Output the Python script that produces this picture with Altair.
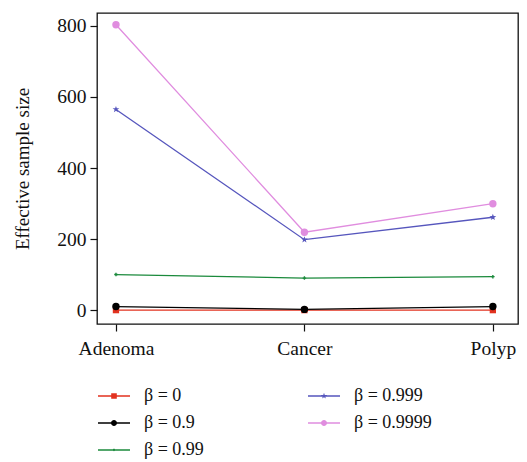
import altair as alt
import pandas as pd
import math

categories = ["Adenoma", "Cancer", "Polyp"]
series = ["β = 0", "β = 0.9", "β = 0.99", "β = 0.999", "β = 0.9999"]
v_b0 = [1, 1, 1]
v_b09 = [11, 3, 11]
v_b099 = [101, 91, 95]
v_b0999 = [565, 199, 262]
v_b09999 = [803, 220, 300]
colors = ["#e2321f", "#000000", "#1b8a3c", "#5656bd", "#e08ddf"]
y_ticks = [0, 200, 400, 600, 800]

FONT = "'Liberation Serif', 'Times New Roman', serif"

all_vals = [v_b0, v_b09, v_b099, v_b0999, v_b09999]
rows = []
for s, vals in zip(series, all_vals):
    for c, v in zip(categories, vals):
        rows.append({"cat": c, "series": s, "v": v})
df = pd.DataFrame(rows)

def star(r_out, r_in):
    pts = []
    for i in range(10):
        r = r_out if i % 2 == 0 else r_in
        a = -math.pi / 2 + i * math.pi / 5
        pts.append(f"{r*math.cos(a):.3f},{r*math.sin(a):.3f}")
    return "M" + "L".join(pts) + "Z"

def circ(r):
    return f"M{-r},0A{r},{r} 0 1,1 {r},0A{r},{r} 0 1,1 {-r},0Z"

line_path = "M-1.6,-0.07H1.6V0.07H-1.6Z"
leg_shapes = [
    line_path + " M-0.28,-0.28H0.28V0.28H-0.28Z",
    line_path + " " + circ(0.3),
    line_path + " " + circ(0.12),
    line_path + " " + star(0.32, 0.13),
    line_path + " " + circ(0.3),
]

xs = alt.X("cat:N", sort=categories,
           scale=alt.Scale(type="point", domain=categories, padding=0.117, align=0.43),
           axis=alt.Axis(title=None, labelAngle=0, labelFontSize=19.5, labelPadding=8,
                         tickSize=7, domain=False, labelColor="#111",
                         labelFont=FONT))
ys = alt.Y("v:Q", scale=alt.Scale(domain=[-38, 836], nice=False, zero=False),
           axis=alt.Axis(title="Effective sample size", values=y_ticks, tickSize=7,
                         labelFontSize=19.5, titleFontSize=19, titleFontWeight="normal",
                         titlePadding=24, labelPadding=4, domain=False, grid=False,
                         labelColor="#111", titleColor="#111",
                         labelFont=FONT, titleFont=FONT))
col = alt.Color("series:N",
                scale=alt.Scale(domain=series, range=colors),
                legend=alt.Legend(title=None, orient="none", legendX=7, legendY=373,
                                  columns=2, columnPadding=104, rowPadding=8,
                                  labelFontSize=18, labelFont=FONT,
                                  labelColor="#111", labelOffset=20,
                                  symbolSize=400, symbolStrokeWidth=0))

base = alt.Chart(df)

legend_layer = base.transform_filter("datum.v < -1000").mark_point(filled=True, opacity=1).encode(
    x=xs, y=ys, color=col,
    shape=alt.Shape("series:N", scale=alt.Scale(domain=series, range=leg_shapes),
                    legend=alt.Legend(title=None)),
)

lines = base.mark_line(strokeWidth=1.3).encode(x=xs, y=ys, color=col, detail="series:N")

marker_shapes = ["square", "circle", "cross",
                 "M0,-1L0.235,-0.324L0.951,-0.309L0.38,0.124L0.588,0.809L0,0.4L-0.588,0.809L-0.38,0.124L-0.951,-0.309L-0.235,-0.324Z",
                 "circle"]
marker_sizes = [40, 55, 12, 50, 55]
pts = []
for s, shp, sz in zip(series, marker_shapes, marker_sizes):
    pts.append(base.transform_filter(alt.datum.series == s).mark_point(
        filled=True, shape=shp, size=sz, opacity=1).encode(x=xs, y=ys, color=col))

chart = alt.layer(legend_layer, lines, *pts).properties(
    width=421, height=311,
    padding={"left": 97, "top": 13, "right": 9, "bottom": 138},
    autosize=alt.AutoSizeParams(type="none"),
).configure(background="white", font=FONT).configure_view(
    stroke="#111", strokeWidth=1.3
).configure_axis(
    tickColor="#111", tickWidth=1.2,
)

chart.save("out.html", embed_options={"renderer": "svg", "actions": False})
